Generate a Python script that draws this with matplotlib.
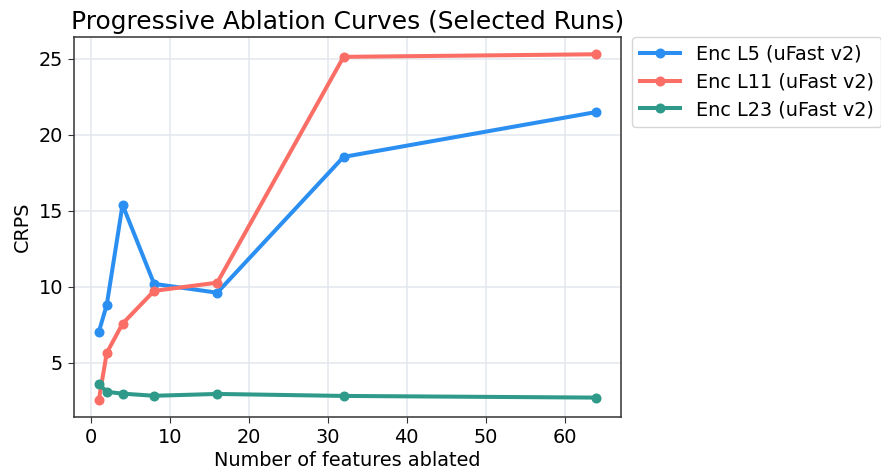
import numpy as np
import matplotlib.pyplot as plt

# data
n_ablated = [1, 2, 4, 8, 16, 32, 64]
crps_l5 = [7.05, 8.82, 15.4, 10.2, 9.62, 18.55, 21.5]
crps_l11 = [2.58, 5.66, 7.58, 9.74, 10.28, 25.13, 25.3]
crps_l23 = [3.62, 3.1, 2.98, 2.84, 2.96, 2.83, 2.72]
labels = ['Enc L5 (uFast v2)', 'Enc L11 (uFast v2)', 'Enc L23 (uFast v2)']
colors = ['#2b8ff2', '#fa6e66', '#2f9a89']

plt.rcParams['font.family'] = 'DejaVu Sans'
plt.rcParams['font.size'] = 13.9

fig = plt.figure(figsize=(8.81, 4.72), dpi=100)
ax = fig.add_axes([74 / 881, 1 - 417 / 472, 547 / 881, 380 / 472])

for ys, lab, c in zip([crps_l5, crps_l11, crps_l23], labels, colors):
    ax.plot(n_ablated, ys, color=c, linewidth=2.9, marker='o', markersize=6.2, label=lab)

ax.set_title('Progressive Ablation Curves (Selected Runs)', fontsize=17.9, pad=6)
ax.set_xlabel('Number of features ablated', fontsize=13.9, labelpad=3)
ax.set_ylabel('CRPS', fontsize=13.9, labelpad=5)
ax.set_xticks([0, 10, 20, 30, 40, 50, 60])
ax.set_yticks([5, 10, 15, 20, 25])
ax.tick_params(labelsize=13.9, length=4.5, color='#333333')
ax.grid(True, color='#e3e7ee', linewidth=1.1)
ax.set_axisbelow(True)
for s in ax.spines.values():
    s.set_color('#333333')
    s.set_linewidth(1.1)

ax.legend(loc='upper left', bbox_to_anchor=(1.02, 1.0), fontsize=13.9,
          frameon=True, edgecolor='#cccccc', fancybox=True, borderaxespad=0,
          handlelength=2.1, handletextpad=0.8, labelspacing=0.45)

fig.savefig('out.png', dpi=100)
